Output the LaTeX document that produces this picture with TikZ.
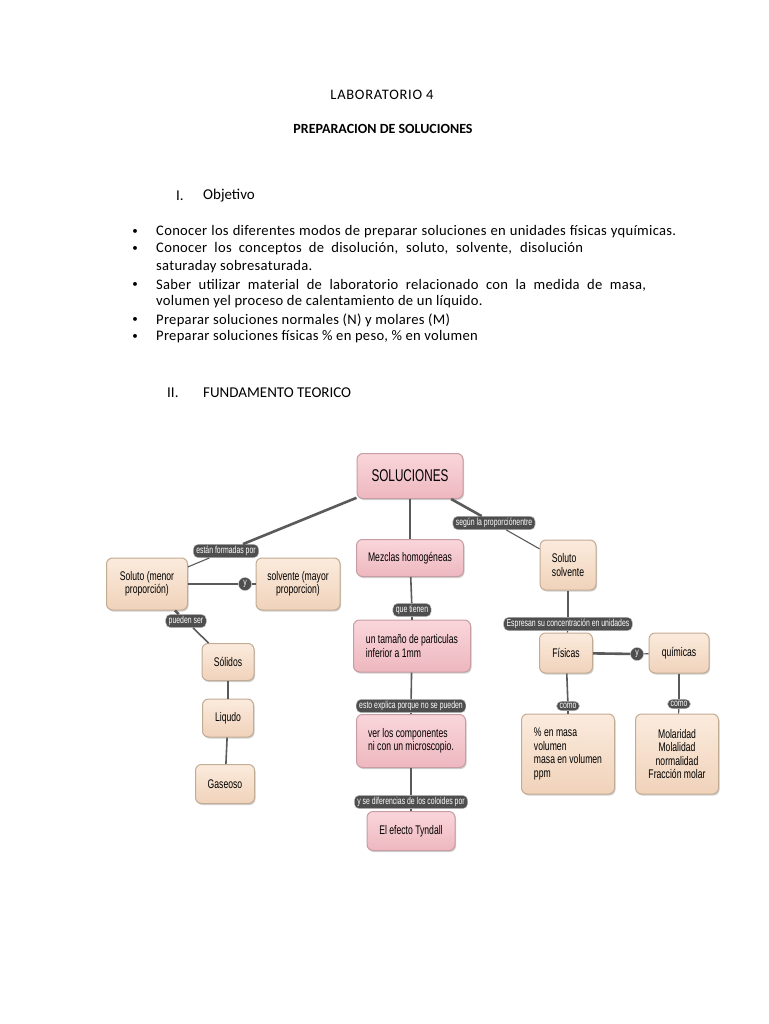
\documentclass[tikz,border=0pt]{standalone}
\usepackage{fontspec}
\setmainfont{Carlito}
\newfontfamily\titlefont[LetterSpace=5]{Carlito}
\newfontfamily\bodyfont[LetterSpace=2]{Carlito}
\newfontfamily\diagfont[FakeStretch=0.69]{Liberation Sans}
\usepackage{xcolor}
\usetikzlibrary{shadows}

\definecolor{pinktop}{HTML}{F9D6DB}
\definecolor{pinkbot}{HTML}{EEB7BF}
\definecolor{pinkline}{HTML}{C89CA3}
\definecolor{beigetop}{HTML}{FBEBDD}
\definecolor{beigebot}{HTML}{F0D2BA}
\definecolor{beigeline}{HTML}{C2AC94}
\definecolor{tagfill}{HTML}{4E4E4E}
\definecolor{edgegray}{HTML}{5A5A5A}

\tikzset{
  conbox/.style={rounded corners=6pt, line width=1pt, inner sep=4pt,
    drop shadow={opacity=0.3, shadow xshift=1pt, shadow yshift=-1.5pt, fill=black!60},
    font=\diagfont\fontsize{12.5}{13.5}\selectfont},
  pinkbox/.style={conbox, draw=pinkline, top color=pinktop, bottom color=pinkbot},
  beigebox/.style={conbox, draw=beigeline, top color=beigetop, bottom color=beigebot},
  tag/.style={fill=tagfill, draw=black!25, rounded corners=5pt, text=white,
    font=\diagfont\fontsize{10}{10}\selectfont, inner xsep=3pt, inner ysep=2pt},
  tagy/.style={tag, circle, inner sep=0.5pt, minimum size=13pt},
  edgebold/.style={draw=edgegray, line width=2.6pt},
  edgemid/.style={draw=edgegray, line width=1.6pt},
  edgethin/.style={draw=edgegray, line width=1.1pt},
  doctext/.style={anchor=west, inner sep=0pt, font=\bodyfont\fontsize{14.6}{16}\selectfont},
  bul/.style={inner sep=0pt, font=\fontsize{11}{12}\selectfont}
}

\begin{document}
\begin{tikzpicture}[x=1pt, y=-1pt]
	\fill[white] (0,0) rectangle (768,1024);
	\useasboundingbox (0,0) rectangle (768,1024);

	% heading
	\node[font=\titlefont\fontsize{14.5}{16}\selectfont] (lab) at (382,95) {LABORATORIO 4};
	\node[font=\bfseries\fontsize{14}{16}\selectfont] (prep) at (383,129) {PREPARACION DE SOLUCIONES};
	\node[anchor=west, inner sep=0pt, font=\fontsize{15}{18}\selectfont] (num1) at (176,196) {I.};
	\node[anchor=west, inner sep=0pt, font=\fontsize{15}{18}\selectfont] (obj) at (203,196) {Objetivo};

	% objetivos
	\foreach \yy in {232,249,285,320,337}
		\node[bul] at (135,\yy) {\textbullet};
	\node[doctext] (o1) at (156,232) {\makebox[520pt][s]{Conocer los diferentes modos de preparar soluciones en unidades físicas yquímicas.}};
	\node[doctext] (o2) at (156,249) {\makebox[427pt][s]{Conocer los conceptos de disolución, soluto, solvente, disolución}};
	\node[doctext] (o2b) at (156,267) {saturaday sobresaturada.};
	\node[doctext] (o3) at (156,285) {\makebox[490pt][s]{Saber utilizar material de laboratorio relacionado con la medida de masa,}};
	\node[doctext] (o3b) at (156,302) {volumen yel proceso de calentamiento de un líquido.};
	\node[doctext] (o4) at (156,320) {Preparar soluciones normales (N) y molares (M)};
	\node[doctext] (o5) at (156,337) {Preparar soluciones físicas \% en peso, \% en volumen};

	\node[anchor=west, inner sep=0pt, font=\fontsize{15}{18}\selectfont] (num2) at (167,393) {II.};
	\node[anchor=west, inner sep=0pt, font=\fontsize{15}{18}\selectfont] (fund) at (203,393) {FUNDAMENTO TEORICO};

	% mapa conceptual
	\node[pinkbox, minimum width=106pt, minimum height=45pt, font=\diagfont\fontsize{17}{18}\selectfont] (sol) at (410,476) {SOLUCIONES};
	\node[pinkbox, minimum width=107pt, minimum height=37pt] (mez) at (410,558) {Mezclas homogéneas};
	\node[beigebox, minimum width=56pt, minimum height=50pt, align=left] (solsolv) at (568,565) {Soluto\\solvente};
	\node[beigebox, minimum width=81pt, minimum height=52pt, align=center] (soluto) at (147,584) {Soluto (menor\\proporción)};
	\node[beigebox, minimum width=84pt, minimum height=52pt, align=center] (solvente) at (298,584) {solvente (mayor\\proporcion)};
	\node[beigebox, minimum width=52pt, minimum height=37pt] (solidos) at (228,662) {Sólidos};
	\node[beigebox, minimum width=51pt, minimum height=38pt] (liquido) at (228,718) {Liqudo};
	\node[beigebox, minimum width=59pt, minimum height=39pt] (gaseoso) at (225,784) {Gaseoso};
	\node[pinkbox, minimum width=117pt, minimum height=52pt, align=left] (tam) at (412,646) {un tamaño de particulas\\ inferior a 1mm};
	\node[pinkbox, minimum width=109pt, minimum height=53pt, align=left] (ver) at (411,741) {ver los componentes\\ni con un microscopio.};
	\node[pinkbox, minimum width=88pt, minimum height=39pt] (tyn) at (411,831) {El efecto Tyndall};
	\node[beigebox, minimum width=53pt, minimum height=40pt] (fis) at (566,653) {Físicas};
	\node[beigebox, minimum width=60pt, minimum height=40pt] (qui) at (679,653) {químicas};
	\node[beigebox, minimum width=93pt, minimum height=80pt, align=left] (fisej) at (568,754) {\% en masa\\volumen\\masa en volumen\\ppm};
	\node[beigebox, minimum width=83pt, minimum height=80pt, align=center] (quiej) at (677,754) {Molaridad\\Molalidad\\normalidad\\Fracción molar};

	% etiquetas
	\node[tag] (tform) at (226,551) {están formadas por};
	\node[tagy] (ty1) at (245,584) {y};
	\node[tag] (tpued) at (186,621) {pueden ser};
	\node[tag] (tsegun) at (494,523) {según la proporciónentre};
	\node[tag] (tque) at (412,610) {que tienen};
	\node[tag] (testo) at (411,706) {esto explica porque no se pueden};
	\node[tag] (tdif) at (411,802) {y se diferencias de los coloides por};
	\node[tag] (tesp) at (568,624) {Espresan su concentración en unidades};
	\node[tagy] (ty2) at (637,654) {y};
	\node[tag] (tcomo1) at (568,706) {como};
	\node[tag] (tcomo2) at (679,704) {como};

	% conectores
	\draw[edgebold] (sol) -- (tform);
	\draw[edgethin] (tform) -- (soluto);
	\draw[edgebold] (soluto) -- (ty1);
	\draw[edgethin] (ty1) -- (solvente);
	\draw[edgebold] (soluto) -- (tpued);
	\draw[edgemid] (tpued) -- (solidos);
	\draw[edgemid] (solidos) -- (liquido);
	\draw[edgemid] (liquido) -- (gaseoso);
	\draw[edgemid] (sol) -- (mez);
	\draw[edgemid] (mez) -- (tque);
	\draw[edgethin] (tque) -- (tam);
	\draw[edgemid] (tam) -- (testo);
	\draw[edgethin] (testo) -- (ver);
	\draw[edgemid] (ver) -- (tdif);
	\draw[edgethin] (tdif) -- (tyn);
	\draw[edgebold] (sol) -- (tsegun);
	\draw[edgethin] (tsegun) -- (solsolv);
	\draw[edgemid] (solsolv) -- (tesp);
	\draw[edgethin] (tesp) -- (fis);
	\draw[edgebold] (fis) -- (ty2);
	\draw[edgethin] (ty2) -- (qui);
	\draw[edgemid] (fis) -- (tcomo1);
	\draw[edgethin] (tcomo1) -- (fisej);
	\draw[edgemid] (qui) -- (tcomo2);
	\draw[edgethin] (tcomo2) -- (quiej);
\end{tikzpicture}
\end{document}
